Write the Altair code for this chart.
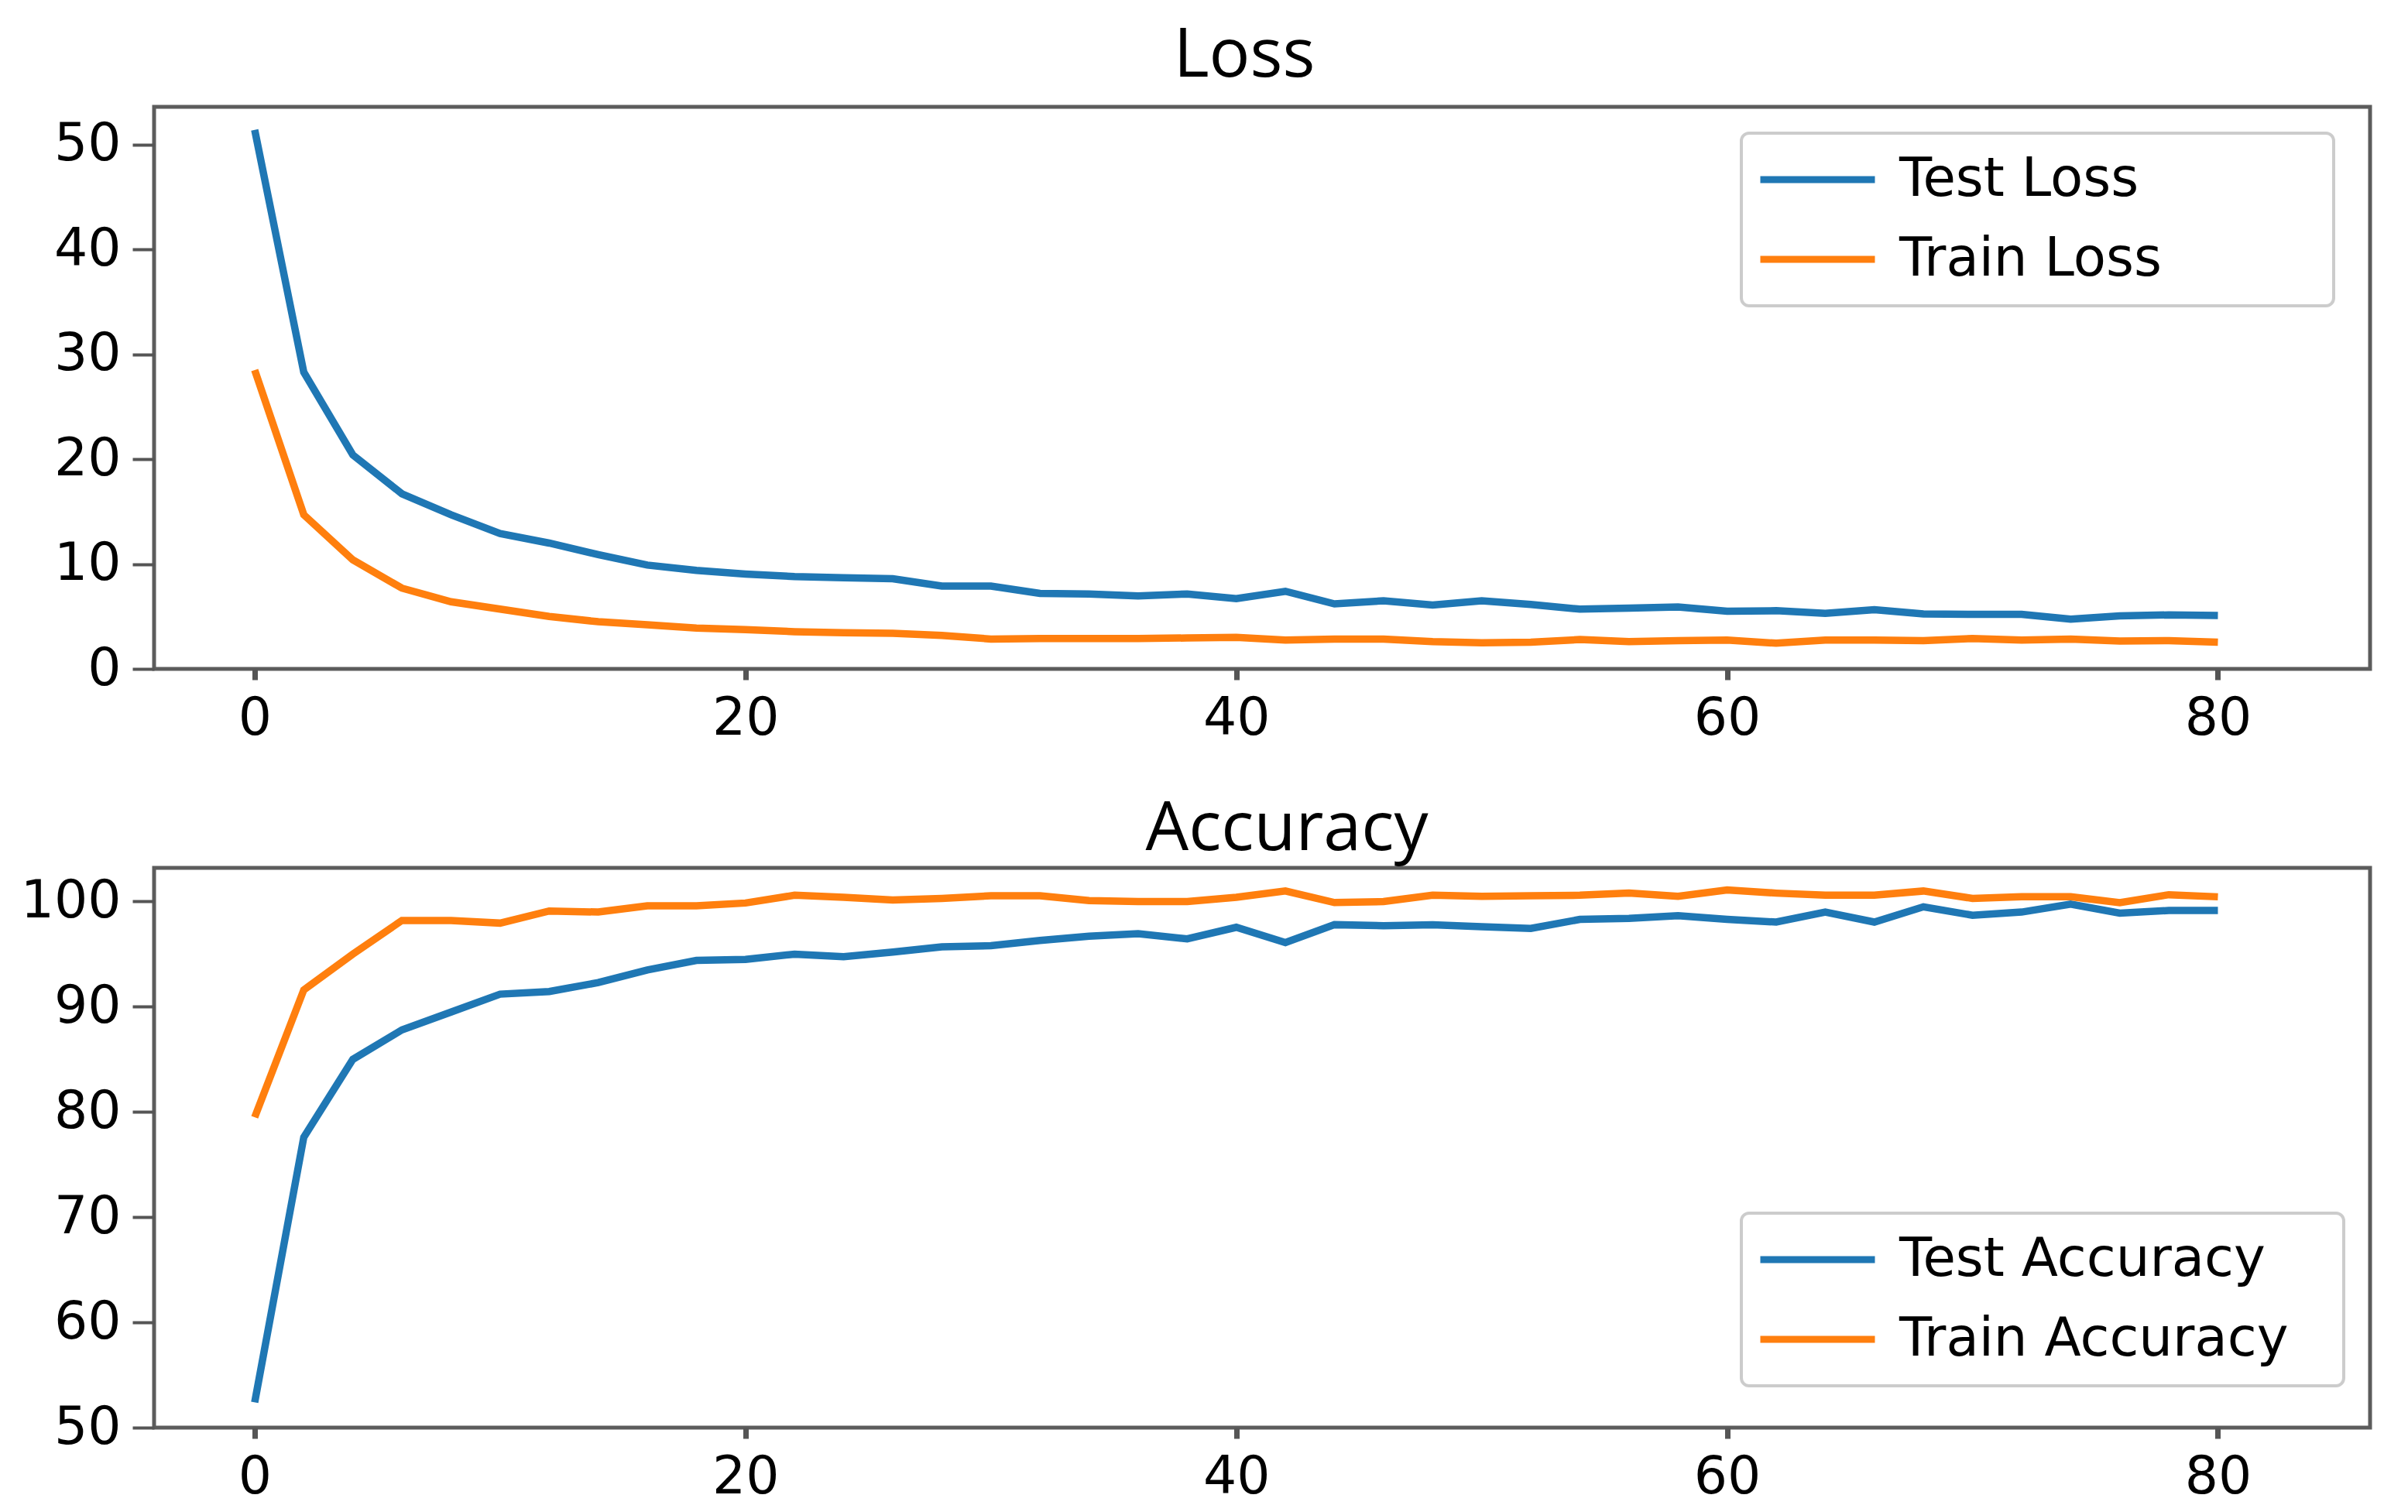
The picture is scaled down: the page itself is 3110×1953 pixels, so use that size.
import altair as alt
import pandas as pd

epochs = list(range(0, 81, 2))

test_loss = [51.4, 28.3, 20.4, 16.7, 14.7, 12.9, 12.0, 10.9, 9.9, 9.4, 9.05,
             8.8, 8.7, 8.6, 7.9, 7.9, 7.2, 7.15, 6.95, 7.15, 6.7,
             7.4, 6.2, 6.5, 6.1, 6.5, 6.15, 5.7, 5.8, 5.9, 5.5,
             5.55, 5.3, 5.65, 5.25, 5.2, 5.2, 4.75, 5.05, 5.15, 5.1]
train_loss = [28.5, 14.7, 10.4, 7.7, 6.4, 5.7, 5.0, 4.5, 4.2, 3.9, 3.75,
              3.55, 3.45, 3.4, 3.2, 2.85, 2.9, 2.9, 2.9, 2.95, 3.0,
              2.75, 2.85, 2.85, 2.6, 2.5, 2.55, 2.8, 2.6, 2.7, 2.75,
              2.45, 2.75, 2.75, 2.7, 2.9, 2.75, 2.85, 2.65, 2.7, 2.55]
test_acc = [52.4, 77.6, 85.0, 87.8, 89.5, 91.2, 91.45, 92.3, 93.5, 94.4, 94.5,
            95.0, 94.75, 95.2, 95.7, 95.8, 96.3, 96.7, 96.95, 96.45, 97.55,
            96.1, 97.8, 97.7, 97.8, 97.6, 97.45, 98.3, 98.4, 98.65, 98.3,
            98.05, 99.0, 98.05, 99.5, 98.7, 99.0, 99.75, 98.9, 99.15, 99.15]
train_acc = [79.5, 91.6, 95.0, 98.2, 98.2, 97.95, 99.1, 99.0, 99.6, 99.6, 99.86,
             100.6, 100.4, 100.15, 100.3, 100.55, 100.55, 100.1, 100.0, 100.0, 100.4,
             101.0, 99.9, 100.0, 100.6, 100.5, 100.55, 100.6, 100.8, 100.5, 101.1,
             100.8, 100.6, 100.6, 101.0, 100.3, 100.45, 100.45, 99.9, 100.65, 100.45]

loss_names = ["Test Loss", "Train Loss"]
acc_names = ["Test Accuracy", "Train Accuracy"]
x_ticks = [0, 20, 40, 60, 80]
loss_ticks = [0, 10, 20, 30, 40, 50]
acc_ticks = [50, 60, 70, 80, 90, 100]

BLUE = "#1f77b4"
ORANGE = "#ff7f0e"
X_DOMAIN = [-4.1, 86.2]

loss_df = pd.DataFrame({
    "epoch": epochs + epochs,
    "value": test_loss + train_loss,
    "series": [loss_names[0]] * len(epochs) + [loss_names[1]] * len(epochs),
})
acc_df = pd.DataFrame({
    "epoch": epochs + epochs,
    "value": test_acc + train_acc,
    "series": [acc_names[0]] * len(epochs) + [acc_names[1]] * len(epochs),
})

BLANK = "\u2800"  # blank (non-whitespace) glyph, widens the legend box like the reference


def panel(df, names, title, ydomain, yticks, legend_y, title_offset, title_dx, n_pad, height):
    pad_expr = "datum.label + '" + BLANK * n_pad + "'"
    return alt.Chart(
        df,
        title=alt.TitleParams(
            title, fontSize=88, font="Open Sans", fontWeight="normal", color="black",
            anchor="middle", offset=title_offset, dx=title_dx, baseline="alphabetic",
        ),
    ).mark_line(strokeWidth=9.5).encode(
        x=alt.X("epoch:Q",
                scale=alt.Scale(domain=X_DOMAIN, nice=False, zero=False),
                axis=alt.Axis(values=x_ticks, title=None, tickSize=14, tickWidth=7,
                              labelPadding=16)),
        y=alt.Y("value:Q",
                scale=alt.Scale(domain=ydomain, nice=False, zero=False),
                axis=alt.Axis(values=yticks, title=None, tickSize=28, tickWidth=4,
                              labelPadding=15)),
        color=alt.Color("series:N",
                        scale=alt.Scale(domain=names, range=[BLUE, ORANGE]),
                        legend=alt.Legend(
                            title=None, orient="none", legendX=2050, legendY=legend_y,
                            symbolType="stroke", symbolSize=21904, symbolStrokeWidth=9,
                            clipHeight=80, rowPadding=23, padding=20, labelOffset=27,
                            labelFontSize=69, labelFont="DejaVu Sans", labelColor="black",
                            labelLimit=1500,
                            strokeColor="#cccccc", cornerRadius=10, fillColor="white",
                            labelExpr=pad_expr,
                        )),
    ).properties(width=2862, height=height)


top = panel(loss_df, loss_names, "Loss", [0, 53.6], loss_ticks, 34, -49, -23, 4, 726)
bottom = panel(acc_df, acc_names, "Accuracy", [50, 103.2], acc_ticks, 446, -65, 32, 1, 723)

chart = alt.vconcat(top, bottom, spacing=60).resolve_scale(
    color="independent"
).resolve_legend(
    color="independent"
).configure_view(
    stroke="#5c5c5c", strokeWidth=5
).configure_axis(
    domain=False, grid=False, labelFont="DejaVu Sans", labelFontSize=68,
    labelColor="black", tickColor="#555555",
).configure_legend(
    strokeWidth=4
).properties(
    padding={"left": 15, "top": 18, "right": 5, "bottom": 5},
    background="white",
)

chart.save("out.html", embed_options={"renderer": "svg", "actions": False})
